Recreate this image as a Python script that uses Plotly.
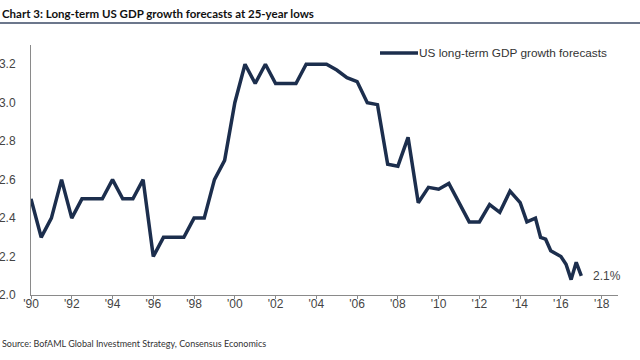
import plotly.graph_objects as go

# Data (decimal year, % forecast)
years = [1990.0, 1990.5, 1991.0, 1991.5, 1992.0, 1992.5, 1993.0, 1993.5, 1994.0, 1994.5,
         1995.0, 1995.5, 1996.0, 1996.5, 1997.0, 1997.5, 1998.0, 1998.5, 1999.0, 1999.5,
         2000.0, 2000.5, 2001.0, 2001.5, 2002.0, 2002.5, 2003.0, 2003.5, 2004.0, 2004.5,
         2005.0, 2005.5, 2006.0, 2006.5, 2007.0, 2007.5, 2008.0, 2008.5, 2009.0, 2009.5,
         2010.0, 2010.5, 2011.0, 2011.5, 2012.0, 2012.5, 2013.0, 2013.5, 2014.0, 2014.33,
         2014.75, 2015.0, 2015.25, 2015.5, 2016.0, 2016.25, 2016.5, 2016.75, 2017.0]
forecast = [2.5, 2.3, 2.4, 2.6, 2.4, 2.5, 2.5, 2.5, 2.6, 2.5,
            2.5, 2.6, 2.2, 2.3, 2.3, 2.3, 2.4, 2.4, 2.6, 2.7,
            3.0, 3.2, 3.1, 3.2, 3.1, 3.1, 3.1, 3.2, 3.2, 3.2,
            3.17, 3.13, 3.11, 3.0, 2.99, 2.68, 2.67, 2.82, 2.48, 2.56,
            2.55, 2.58, 2.48, 2.38, 2.38, 2.47, 2.43, 2.54, 2.48, 2.38,
            2.40, 2.30, 2.29, 2.23, 2.20, 2.16, 2.08, 2.17, 2.10]

tick_years = list(range(1990, 2019, 2))
tick_labels = ["'%02d" % (y % 100) for y in tick_years]
y_ticks = [2.0, 2.2, 2.4, 2.6, 2.8, 3.0, 3.2]
y_labels = ["2.0", "2.2", "2.4", "2.6", "2.8", "3.0", "3.2"]

series_name = "US long-term GDP growth forecasts"
last_label = "2.1%"
title_text = "Chart 3: Long-term US GDP growth forecasts at 25-year lows"
source_text = "Source: BofAML Global Investment Strategy, Consensus Economics"

NAVY = "#1c2e4d"
GRAY_TXT = "#444444"
AXIS = "#8a8a8a"

fig = go.Figure()
fig.add_trace(go.Scatter(x=years, y=forecast, mode="lines", name=series_name,
                         line=dict(color=NAVY, width=3.5), showlegend=False))

W, H = 640, 360
L, R, T, B = 31, 22, 45, 65
pw = W - L - R
ph = H - T - B

def px(xp):
    return (xp - L) / pw

def py(yp):
    return (H - B - yp) / ph

fig.update_layout(
    width=W, height=H,
    margin=dict(l=L, r=R, t=T, b=B, autoexpand=False),
    paper_bgcolor="white", plot_bgcolor="white",
    font=dict(family="Liberation Sans, Arial, sans-serif", color=GRAY_TXT, size=12),
    showlegend=False,
    xaxis=dict(range=[1990, 2018.8], tickvals=tick_years, ticktext=tick_labels, automargin=False,
               showgrid=False, zeroline=False, showline=True, linecolor=AXIS, linewidth=1,
               ticks="outside", ticklen=3, tickcolor=AXIS, ticklabelstandoff=-5,
               tickfont=dict(size=12, color=GRAY_TXT)),
    yaxis=dict(range=[2.0, 3.3], tickvals=y_ticks, ticktext=y_labels, automargin=False,
               showgrid=False, zeroline=False, showline=True, linecolor=AXIS, linewidth=1,
               ticks="", ticklabelstandoff=12, tickfont=dict(size=12, color=GRAY_TXT)),
)

# legend drawn as a line sample plus its label
fig.add_shape(type="line", xref="paper", yref="paper", x0=px(380), x1=px(418), y0=py(53), y1=py(53),
              line=dict(color=NAVY, width=3.5))
fig.add_annotation(text=series_name, xref="paper", yref="paper", x=px(417), y=py(53),
                   xanchor="left", yanchor="middle", showarrow=False,
                   font=dict(size=11.8, color="#333333"))

fig.add_annotation(text="<b>" + title_text + "</b>", xref="paper", yref="paper",
                   x=px(0), y=py(14), xanchor="left", yanchor="middle", showarrow=False,
                   font=dict(family="Lato, sans-serif", size=11.5, color="#111111"))
fig.add_shape(type="line", xref="paper", yref="paper", x0=px(0), x1=px(640), y0=py(23), y1=py(23),
              line=dict(color="#3b4a66", width=1.5))
fig.add_annotation(text=source_text, xref="paper", yref="paper",
                   x=px(0), y=py(343), xanchor="left", yanchor="middle", showarrow=False,
                   font=dict(family="Lato, sans-serif", size=9, color="#333333"))
fig.add_annotation(text=last_label, x=years[-1], y=forecast[-1], xref="x", yref="y",
                   xanchor="left", yanchor="middle", xshift=10, showarrow=False,
                   font=dict(size=12, color=GRAY_TXT))

fig.write_html("out.html", config={"displayModeBar": False},
               post_script="document.body.style.margin='0';")
